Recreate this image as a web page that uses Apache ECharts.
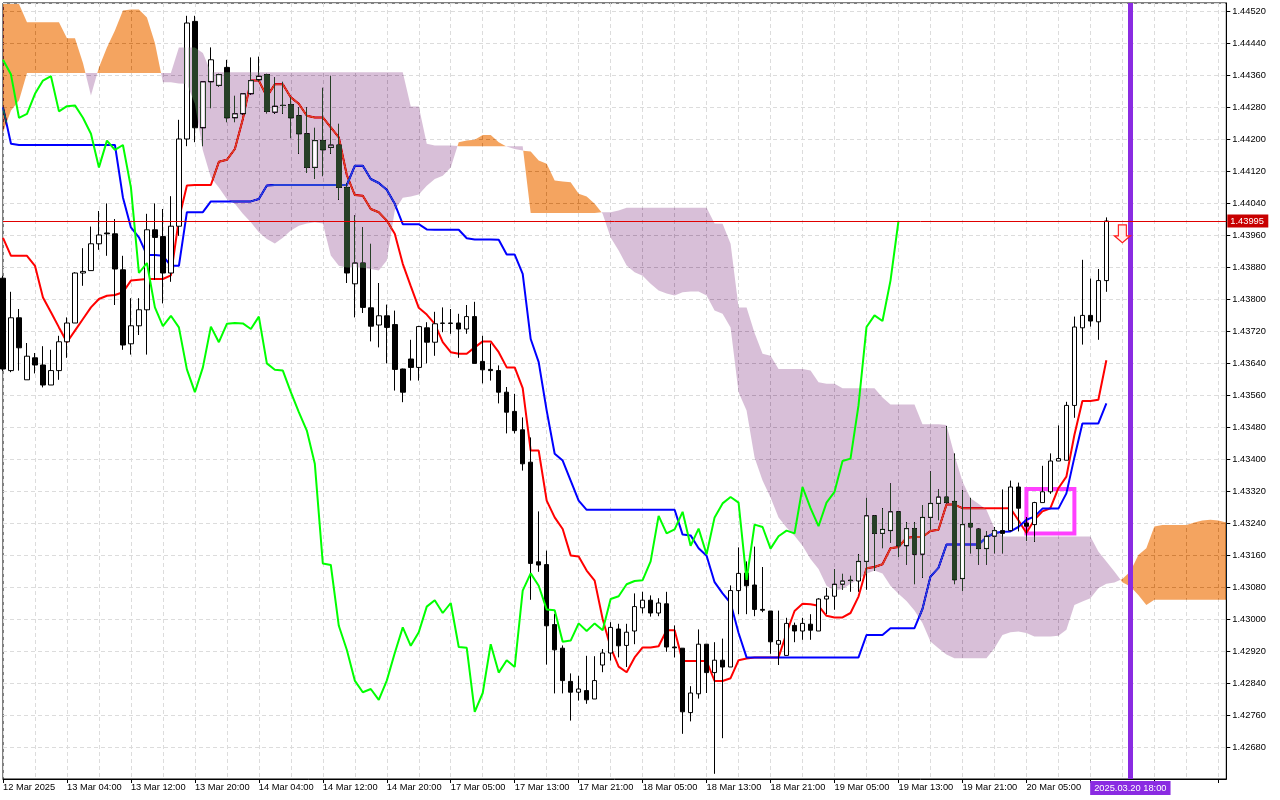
<!DOCTYPE html>
<html>
<head>
<meta charset="utf-8">
<script src="https://cdn.jsdelivr.net/npm/echarts@6/dist/echarts.min.js"></script>
<style>html,body{margin:0;padding:0;background:#fff;}#c{width:1280px;height:800px;}</style>
</head>
<body>
<div id="c"></div>
<script>
// ---- data (H1 chart, prices) ----
const tickLabels = ['12 Mar 2025','13 Mar 04:00','13 Mar 12:00','13 Mar 20:00','14 Mar 04:00','14 Mar 12:00','14 Mar 20:00','17 Mar 05:00','17 Mar 13:00','17 Mar 21:00','18 Mar 05:00','18 Mar 13:00','18 Mar 21:00','19 Mar 05:00','19 Mar 13:00','19 Mar 21:00','20 Mar 05:00'];
const markerText = '2025.03.20 18:00';

const opens = [
1.43852,1.43621,1.43753,1.43598,1.43653,1.43635,1.43585,1.43621,1.43693,1.43740,
1.43865,1.43871,1.43938,1.43965,1.43963,1.43873,1.43688,1.43733,1.43773,1.43973,
1.43956,1.43865,1.43982,1.44200,1.44494,1.44228,1.44343,1.44334,1.44379,1.44253,
1.44263,1.44313,1.44348,1.44361,1.44267,1.44284,1.44286,1.44258,1.44213,1.44129,
1.44196,1.44179,1.44185,1.44079,1.43838,1.43890,1.43778,1.43735,1.43758,1.43736,
1.43625,1.43650,1.43629,1.43728,1.43692,1.43739,1.43740,1.43740,1.43725,1.43756,
1.43644,1.43624,1.43621,1.43567,1.43519,1.43473,1.43392,1.43143,1.43136,1.42986,
1.42927,1.42844,1.42817,1.42821,1.42800,1.42885,1.42915,1.42975,1.42934,1.42970,
1.43028,1.43047,1.43015,1.43038,1.42930,1.42927,1.42766,1.42813,1.42937,1.42866,
1.42897,1.42880,1.43071,1.43115,1.43085,1.43024,1.43020,1.42937,1.42909,1.42984,
1.42970,1.42987,1.42970,1.43050,1.43057,1.43087,1.43096,1.43095,1.43144,1.43258,
1.43214,1.43221,1.43268,1.43183,1.43226,1.43162,1.43254,1.43289,1.43305,1.43294,
1.43101,1.43239,1.43225,1.43176,1.43207,1.43221,1.43221,1.43330,1.43240,1.43236,
1.43291,1.43318,1.43395,1.43397,1.43534,1.43728,1.43759,1.43743,1.43846];
const highs = [
1.43858,1.43818,1.43775,1.43690,1.43665,1.43682,1.43673,1.43708,1.43754,1.43867,
1.43927,1.43981,1.44020,1.44039,1.44000,1.43908,1.43802,1.43802,1.44013,1.44039,
1.44025,1.44057,1.44248,1.44508,1.44508,1.44343,1.44429,1.44363,1.44398,1.44308,
1.44315,1.44404,1.44406,1.44363,1.44354,1.44343,1.44304,1.44279,1.44279,1.44228,
1.44328,1.44358,1.44238,1.44089,1.44009,1.43979,1.43938,1.43840,1.43786,1.43771,
1.43626,1.43698,1.43733,1.43742,1.43768,1.43779,1.43775,1.43763,1.43785,1.43793,
1.43708,1.43689,1.43634,1.43580,1.43563,1.43504,1.43454,1.43269,1.43171,1.43013,
1.42934,1.42864,1.42858,1.42908,1.42907,1.42925,1.42992,1.42988,1.42988,1.43064,
1.43068,1.43059,1.43052,1.43068,1.42984,1.42927,1.42832,1.42974,1.42937,1.42942,
1.42951,1.43084,1.43179,1.43144,1.43181,1.43130,1.43020,1.43021,1.43003,1.42991,
1.43003,1.43012,1.43052,1.43078,1.43125,1.43113,1.43108,1.43162,1.43303,1.43260,
1.43277,1.43339,1.43270,1.43242,1.43242,1.43285,1.43369,1.43324,1.43482,1.43414,
1.43322,1.43303,1.43226,1.43219,1.43230,1.43324,1.43346,1.43341,1.43255,1.43293,
1.43383,1.43414,1.43484,1.43543,1.43756,1.43898,1.43851,1.43875,1.44004];
const lows = [
1.43620,1.43617,1.43621,1.43598,1.43614,1.43579,1.43585,1.43598,1.43653,1.43740,
1.43833,1.43871,1.43923,1.43908,1.43785,1.43673,1.43661,1.43710,1.43661,1.43848,
1.43789,1.43843,1.43958,1.44182,1.44192,1.44182,1.44277,1.44331,1.44242,1.44242,
1.44261,1.44311,1.44344,1.44264,1.44263,1.44263,1.44202,1.44163,1.44115,1.44100,
1.44107,1.44163,1.44048,1.43840,1.43754,1.43765,1.43694,1.43679,1.43639,1.43571,
1.43542,1.43596,1.43596,1.43639,1.43658,1.43717,1.43713,1.43653,1.43713,1.43639,
1.43589,1.43596,1.43539,1.43464,1.43464,1.43371,1.43048,1.43118,1.42886,1.42814,
1.42814,1.42746,1.42796,1.42788,1.42800,1.42867,1.42896,1.42904,1.42880,1.42937,
1.43014,1.43006,1.43007,1.42918,1.42904,1.42713,1.42744,1.42801,1.42815,1.42613,
1.42702,1.42880,1.43012,1.43012,1.43007,1.43017,1.42913,1.42885,1.42909,1.42942,
1.42948,1.42948,1.42970,1.43012,1.43023,1.43073,1.43068,1.43068,1.43073,1.43120,
1.43177,1.43191,1.43155,1.43136,1.43087,1.43103,1.43224,1.43247,1.43289,1.43087,
1.43070,1.43164,1.43136,1.43136,1.43164,1.43164,1.43219,1.43219,1.43195,1.43193,
1.43291,1.43313,1.43395,1.43397,1.43503,1.43686,1.43731,1.43698,1.43818];
const closes = [
1.43625,1.43753,1.43678,1.43657,1.43635,1.43585,1.43621,1.43693,1.43740,1.43865,
1.43869,1.43938,1.43960,1.43963,1.43875,1.43685,1.43733,1.43773,1.43973,1.43954,
1.43865,1.43982,1.44200,1.44490,1.44228,1.44343,1.44398,1.44361,1.44253,1.44263,
1.44313,1.44346,1.44357,1.44269,1.44282,1.44284,1.44253,1.44213,1.44129,1.44196,
1.44173,1.44185,1.44079,1.43865,1.43890,1.43779,1.43732,1.43758,1.43729,1.43624,
1.43567,1.43629,1.43731,1.43692,1.43738,1.43740,1.43739,1.43725,1.43756,1.43639,
1.43623,1.43621,1.43567,1.43517,1.43471,1.43388,1.43139,1.43135,1.42983,1.42923,
1.42846,1.42817,1.42825,1.42798,1.42846,1.42915,1.42979,1.42933,1.42967,1.43031,
1.43047,1.43015,1.43040,1.42930,1.42928,1.42768,1.42815,1.42937,1.42866,1.42897,
1.42880,1.43071,1.43114,1.43083,1.43024,1.43022,1.42943,1.42946,1.42989,1.42970,
1.42989,1.42972,1.43050,1.43057,1.43087,1.43095,1.43097,1.43144,1.43258,1.43214,
1.43224,1.43268,1.43183,1.43226,1.43162,1.43254,1.43289,1.43305,1.43291,1.43098,
1.43236,1.43230,1.43176,1.43207,1.43221,1.43214,1.43330,1.43277,1.43232,1.43291,
1.43318,1.43395,1.43401,1.43534,1.43730,1.43759,1.43745,1.43846,1.43995];

const tenkan = [
1.43953,1.43908,1.43908,1.43908,1.43883,1.43804,1.43767,1.43729,1.43692,1.43721,
1.43750,1.43779,1.43800,1.43808,1.43810,1.43817,1.43846,1.43848,1.43850,1.43850,
1.43850,1.43859,1.44000,1.44084,1.44085,1.44085,1.44085,1.44143,1.44148,1.44175,
1.44250,1.44346,1.44346,1.44306,1.44337,1.44337,1.44304,1.44288,1.44258,1.44254,
1.44254,1.44229,1.44204,1.44110,1.44060,1.44058,1.44025,1.44017,1.43996,1.43963,
1.43888,1.43832,1.43778,1.43761,1.43738,1.43692,1.43667,1.43663,1.43663,1.43679,
1.43694,1.43694,1.43667,1.43629,1.43629,1.43577,1.43421,1.43421,1.43296,1.43254,
1.43225,1.43159,1.43156,1.43121,1.43096,1.43000,1.42929,1.42881,1.42867,1.42904,
1.42929,1.42929,1.42932,1.42972,1.42972,1.42895,1.42895,1.42895,1.42895,1.42845,
1.42845,1.42852,1.42897,1.42901,1.42904,1.42904,1.42904,1.42904,1.42965,1.43020,
1.43038,1.43037,1.43033,1.43008,1.43004,1.43004,1.43015,1.43056,1.43127,1.43130,
1.43137,1.43177,1.43180,1.43203,1.43205,1.43205,1.43220,1.43223,1.43286,1.43286,
1.43277,1.43277,1.43277,1.43277,1.43277,1.43277,1.43277,1.43247,1.43215,1.43248,
1.43269,1.43277,1.43327,1.43356,1.43460,1.43545,1.43545,1.43548,1.43647];
const kijun = [
1.44279,1.44188,1.44185,1.44185,1.44185,1.44185,1.44185,1.44185,1.44185,1.44185,
1.44185,1.44185,1.44185,1.44185,1.44185,1.44054,1.43979,1.43954,1.43910,1.43910,
1.43908,1.43883,1.43883,1.44017,1.44017,1.44017,1.44044,1.44044,1.44044,1.44044,
1.44044,1.44044,1.44050,1.44084,1.44085,1.44085,1.44085,1.44085,1.44085,1.44085,
1.44085,1.44085,1.44085,1.44085,1.44133,1.44133,1.44100,1.44090,1.44073,1.44038,
1.43987,1.43987,1.43987,1.43974,1.43973,1.43973,1.43973,1.43973,1.43952,1.43949,
1.43949,1.43949,1.43948,1.43911,1.43911,1.43863,1.43700,1.43642,1.43521,1.43413,
1.43396,1.43346,1.43296,1.43273,1.43273,1.43273,1.43273,1.43273,1.43273,1.43273,
1.43273,1.43273,1.43273,1.43273,1.43273,1.43211,1.43209,1.43177,1.43158,1.43092,
1.43064,1.43040,1.42965,1.42904,1.42904,1.42904,1.42904,1.42904,1.42904,1.42904,
1.42904,1.42904,1.42904,1.42904,1.42904,1.42904,1.42904,1.42904,1.42960,1.42960,
1.42960,1.42977,1.42977,1.42977,1.42977,1.43025,1.43106,1.43128,1.43186,1.43186,
1.43186,1.43186,1.43186,1.43204,1.43215,1.43218,1.43219,1.43230,1.43248,1.43256,
1.43276,1.43276,1.43276,1.43314,1.43404,1.43489,1.43489,1.43489,1.43539];
const spanA = [
1.44580,1.44580,1.44580,1.44492,1.44492,1.44492,1.44492,1.44492,1.44452,1.44452,
1.44390,1.44309,1.44379,1.44429,1.44471,1.44521,1.44524,1.44524,1.44504,1.44440,
1.44342,1.44342,1.44339,1.44338,1.44288,1.44171,1.44104,1.44079,1.44050,1.44038,
1.44013,1.43992,1.43967,1.43950,1.43939,1.43953,1.43971,1.43983,1.43989,1.43992,
1.43989,1.43909,1.43883,1.43879,1.43879,1.43878,1.43875,1.43871,1.43896,1.44021,
1.44053,1.44056,1.44061,1.44083,1.44100,1.44108,1.44129,1.44192,1.44196,1.44198,
1.44210,1.44210,1.44192,1.44181,1.44175,1.44171,1.44169,1.44146,1.44138,1.44096,
1.44094,1.44092,1.44063,1.44056,1.44038,1.44013,1.43954,1.43921,1.43884,1.43867,
1.43858,1.43838,1.43821,1.43814,1.43809,1.43817,1.43819,1.43819,1.43809,1.43771,
1.43763,1.43729,1.43567,1.43521,1.43404,1.43346,1.43304,1.43254,1.43229,1.43208,
1.43183,1.43150,1.43125,1.43083,1.43071,1.43075,1.43088,1.43100,1.43113,1.43121,
1.43114,1.43083,1.43063,1.43045,1.43021,1.42990,1.42944,1.42927,1.42911,1.42902,
1.42902,1.42902,1.42902,1.42902,1.42927,1.42960,1.42967,1.42969,1.42965,1.42956,
1.42956,1.42956,1.42958,1.42973,1.43035,1.43044,1.43052,1.43077,1.43088,1.43091,
1.43100,1.43119,1.43160,1.43177,1.43231,1.43235,1.43235,1.43235,1.43235,1.43241,
1.43246,1.43248,1.43246,1.43241];
const spanB = [
1.44217,1.44271,1.44296,1.44365,1.44365,1.44365,1.44365,1.44365,1.44365,1.44365,
1.44365,1.44365,1.44365,1.44365,1.44365,1.44365,1.44365,1.44365,1.44365,1.44365,
1.44365,1.44365,1.44429,1.44429,1.44429,1.44415,1.44367,1.44367,1.44367,1.44367,
1.44367,1.44367,1.44367,1.44367,1.44367,1.44367,1.44367,1.44367,1.44367,1.44367,
1.44367,1.44367,1.44367,1.44367,1.44367,1.44367,1.44367,1.44367,1.44367,1.44367,
1.44367,1.44281,1.44281,1.44188,1.44184,1.44184,1.44184,1.44182,1.44182,1.44182,
1.44182,1.44182,1.44182,1.44182,1.44182,1.44182,1.44015,1.44015,1.44015,1.44015,
1.44015,1.44015,1.44015,1.44015,1.44015,1.44017,1.44017,1.44021,1.44028,1.44028,
1.44028,1.44028,1.44028,1.44028,1.44028,1.44028,1.44028,1.44028,1.44028,1.43989,
1.43988,1.43938,1.43779,1.43779,1.43715,1.43663,1.43658,1.43625,1.43625,1.43625,
1.43625,1.43621,1.43592,1.43588,1.43588,1.43577,1.43577,1.43577,1.43577,1.43577,
1.43554,1.43536,1.43536,1.43536,1.43536,1.43487,1.43487,1.43487,1.43485,1.43410,
1.43344,1.43302,1.43288,1.43273,1.43227,1.43206,1.43206,1.43206,1.43206,1.43206,
1.43206,1.43206,1.43206,1.43206,1.43206,1.43206,1.43206,1.43169,1.43144,1.43119,
1.43092,1.43081,1.43060,1.43035,1.43048,1.43048,1.43048,1.43048,1.43048,1.43048,
1.43048,1.43048,1.43048,1.43048];
const boxCorners = [[128, 1.43325], [134, 1.43214]];
const arrowPoint = [140, 1.43963];
const markerBar = 141;

// ---- build tables for the library ----
const nCat = spanA.length;
const cats = [];
for (let i = 0; i < nCat; i++) cats.push(String(i));
const candleData = opens.map((o, i) => [o, closes[i], lows[i], highs[i]]);
const chikou = closes.slice(26);
const bullBodies = [];
opens.forEach((o, i) => { if (closes[i] > o) bullBodies.push([i, o, closes[i]]); });
const lastPrice = closes[closes.length - 1];

// colours chosen so that a "difference" blend over white gives thistle / sandybrown
const THISTLE_DIFF = '#274027';
const ORANGE_DIFF = '#0b5b9f';
const FONT = 'Liberation Sans';

function renderCloud(params, api) {
  const cs = params.coordSys;
  const top = cs.y + 1, bot = cs.y + cs.height - 1;
  const P = (i, v) => { const p = api.coord([i, v]); p[1] = Math.max(top, Math.min(bot, p[1])); return p; };
  const children = [];
  let upper = [], lower = [], sign = null;
  const flush = (s) => {
    if (upper.length > 1) {
      children.push({ type: 'polygon', shape: { points: upper.concat(lower.slice().reverse()) },
        style: { fill: s > 0 ? ORANGE_DIFF : THISTLE_DIFF } });
    }
  };
  for (let i = 0; i < nCat; i++) {
    const d = spanA[i] - spanB[i];
    const s = d >= 0 ? 1 : -1;
    if (sign !== null && s !== sign) {
      const d0 = spanA[i - 1] - spanB[i - 1];
      const t = d0 / (d0 - d);
      const a0 = P(i - 1, spanA[i - 1]), a1 = P(i, spanA[i]);
      const cp = [a0[0] + t * (a1[0] - a0[0]), a0[1] + t * (a1[1] - a0[1])];
      upper.push(cp); lower.push(cp);
      flush(sign);
      upper = [cp]; lower = [cp];
    }
    sign = s;
    upper.push(P(i, Math.max(spanA[i], spanB[i])));
    lower.push(P(i, Math.min(spanA[i], spanB[i])));
  }
  flush(sign);
  return { type: 'group', children };
}

function renderBullFill(params, api) {
  const i = api.value(0), o = api.value(1), c = api.value(2);
  const pc = api.coord([i, c]), po = api.coord([i, o]);
  const h = po[1] - pc[1];
  if (h < 3) return null;
  return { type: 'rect', shape: { x: pc[0] - 1.4, y: pc[1] + 1, width: 2.8, height: h - 2 }, style: { fill: '#ffffff' } };
}

function renderPriceLine(params, api) {
  const cs = params.coordSys;
  const v = api.value(1);
  const yy = Math.round(api.coord([0, v])[1]) + 0.5;
  const xr = cs.x + cs.width;
  return { type: 'group', children: [
    { type: 'line', shape: { x1: cs.x, y1: yy, x2: xr, y2: yy }, style: { stroke: '#e00000', lineWidth: 1 } },
    { type: 'rect', shape: { x: xr + 1, y: yy - 7, width: 41, height: 13 }, style: { fill: '#c80000' } },
    { type: 'text', style: { text: v.toFixed(5), x: xr + 4, y: yy, fill: '#ffffff', font: '9.3px "Liberation Sans"', align: 'left', verticalAlign: 'middle' } }
  ] };
}

const chart = echarts.init(document.getElementById('c'), null, { renderer: 'canvas' });
chart.setOption({
  animation: false,
  backgroundColor: '#ffffff',
  textStyle: { fontFamily: FONT },
  grid: { left: 2.3, right: 53.7, top: 3, bottom: 21, show: true, borderColor: '#000', borderWidth: 1, backgroundColor: 'transparent' },
  xAxis: {
    type: 'category', data: cats, boundaryGap: false,
    axisLine: { show: true, lineStyle: { color: '#000', width: 1 } },
    axisTick: { show: true, interval: 7, length: 4, lineStyle: { color: '#000' } },
    axisLabel: { interval: 7, align: 'left', margin: 4, color: '#000', fontSize: 9.3, fontFamily: FONT,
      formatter: (v, idx) => (idx % 8 === 0 && tickLabels[idx / 8]) ? tickLabels[idx / 8] : '' },
    splitLine: { show: true, interval: 3, lineStyle: { color: '#dcdcdc', width: 1, type: [4, 3] } }
  },
  yAxis: {
    type: 'value', position: 'right', min: 1.4260, max: 1.4454, interval: 0.0008,
    axisLine: { show: true, lineStyle: { color: '#000' } },
    axisTick: { show: true, length: 4, lineStyle: { color: '#000' } },
    axisLabel: { color: '#000', margin: 6, fontSize: 9.3, fontFamily: FONT, showMinLabel: false,
      formatter: v => v.toFixed(5) },
    splitLine: { show: true, lineStyle: { color: '#dcdcdc', width: 1, type: [4, 3] } }
  },
  series: [
    { name: 'candles', type: 'candlestick', data: candleData, barWidth: 5, z: 2, silent: true,
      itemStyle: { color: '#ffffff', color0: '#000000', borderColor: '#000000', borderColor0: '#000000', borderColorDoji: '#000000', borderWidth: 1 } },
    { name: 'Tenkan', type: 'line', data: tenkan, z: 2, symbol: 'none', silent: true,
      lineStyle: { color: '#ff0000', width: 2 } },
    { name: 'Kijun', type: 'line', data: kijun, z: 2, symbol: 'none', silent: true,
      lineStyle: { color: '#0000ff', width: 2 } },
    { name: 'Cloud', type: 'custom', z: 3, silent: true, blendMode: 'difference',
      data: [[0, spanA[0]]], renderItem: renderCloud },
    { name: 'BullFill', type: 'custom', z: 4, silent: true, data: bullBodies,
      encode: { x: 0, y: [1, 2] }, renderItem: renderBullFill },
    { name: 'Chikou', type: 'line', data: chikou, z: 5, symbol: 'none', silent: true,
      lineStyle: { color: '#00ff00', width: 2 } },
    { name: 'PriceLine', type: 'custom', z: 6, silent: true, data: [[closes.length - 1, lastPrice]],
      renderItem: renderPriceLine },
    { name: 'Marks', type: 'scatter', z: 7, silent: true,
      data: [arrowPoint],
      symbol: 'path://M4,0 L12,0 L12,11 L16,11 L8,18 L0,11 L4,11 Z',
      symbolSize: [16, 18],
      itemStyle: { color: '#fff2ee', borderColor: '#ff1a1a', borderWidth: 1.2, opacity: 1 },
      markLine: {
        silent: true, symbol: ['none', 'none'], animation: false,
        data: [
          { xAxis: markerBar, lineStyle: { color: '#8a2be2', width: 5, type: 'solid', opacity: 1 },
            label: { show: true, position: 'start', formatter: markerText, color: '#ffffff',
              backgroundColor: '#8a2be2', padding: [3, 4, 2, 4], distance: 2, fontSize: 9.3, fontFamily: FONT } }
        ]
      },
      markArea: {
        silent: true,
        itemStyle: { color: 'rgba(0,0,0,0)', borderColor: '#ff40ff', borderWidth: 4 },
        data: [[{ xAxis: boxCorners[0][0], yAxis: boxCorners[0][1] }, { xAxis: boxCorners[1][0], yAxis: boxCorners[1][1] }]]
      }
    }
  ]
});
</script>
</body>
</html>
